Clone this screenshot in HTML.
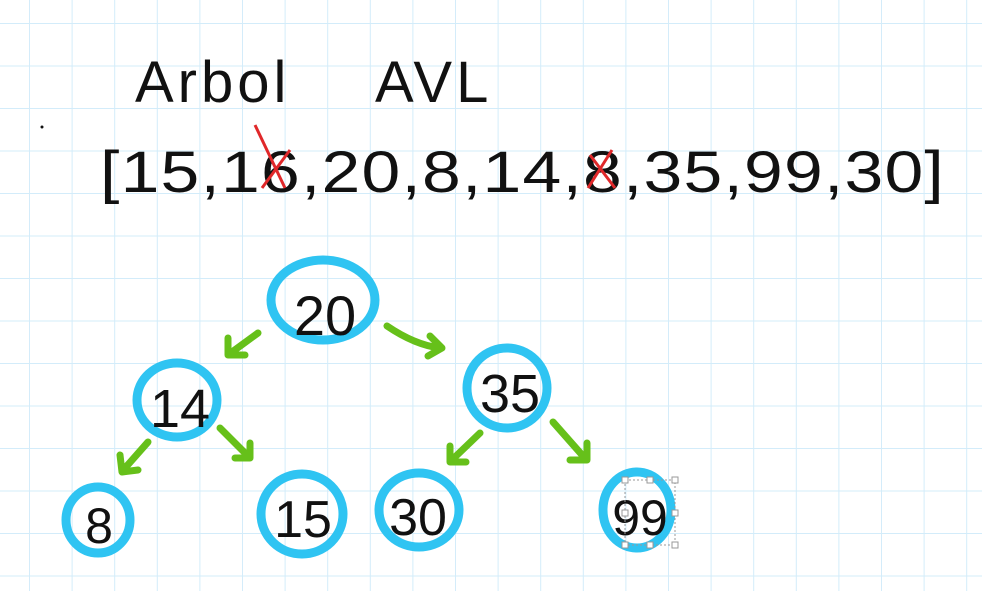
<!DOCTYPE html>
<html><head><style>
html,body{margin:0;padding:0;background:#fff}
svg{display:block}
</style></head><body>
<svg width="982" height="591" viewBox="0 0 982 591" xmlns="http://www.w3.org/2000/svg">
<defs>
<pattern id="g" x="29" y="23" width="42.6" height="42.5" patternUnits="userSpaceOnUse">
<path d="M0 0V42.5M0 0H42.6" stroke="#d3ecfa" stroke-width="2" fill="none"/>
</pattern>
</defs>
<rect width="982" height="591" fill="#fff"/>
<rect width="982" height="591" fill="url(#g)"/>
<g font-family="Liberation Sans, sans-serif" fill="#111">
<text x="135" y="102" font-size="58" font-weight="300" letter-spacing="4">Arbol</text>
<text x="375" y="102" font-size="58" font-weight="300" letter-spacing="4">AVL</text>
<text x="100" y="192" font-size="58" font-weight="300" letter-spacing="1" textLength="845" lengthAdjust="spacingAndGlyphs">[15,16,20,8,14,8,35,99,30]</text>
</g>
<circle cx="42" cy="127" r="1.5" fill="#111"/>
<g stroke="#e0282a" stroke-width="3" fill="none">
<path d="M255 125 L285 188 M290 150 L262 188"/>
<path d="M590 155 L615 188 M612 150 L588 188"/>
</g>
<g stroke="#2fc4f2" stroke-width="9" fill="none">
<ellipse cx="323" cy="300" rx="52" ry="40"/>
<ellipse cx="177" cy="400" rx="40" ry="37"/>
<ellipse cx="507" cy="388" rx="40" ry="40"/>
<ellipse cx="98" cy="520" rx="32" ry="33"/>
<ellipse cx="302" cy="514" rx="41" ry="40"/>
<ellipse cx="419" cy="510" rx="40" ry="37"/>
<ellipse cx="637" cy="510" rx="34" ry="38"/>
</g>
<g font-family="Liberation Sans, sans-serif" fill="#111" font-weight="300" text-anchor="middle">
<text x="325" y="335" font-size="56">20</text>
<text x="180" y="427" font-size="54">14</text>
<text x="510" y="412" font-size="54">35</text>
<text x="99" y="543" font-size="50">8</text>
<text x="303" y="537" font-size="52">15</text>
<text x="418" y="535" font-size="52">30</text>
<text x="640" y="535" font-size="50">99</text>
</g>
<g stroke="#66c01a" stroke-width="7" fill="none" stroke-linecap="round" stroke-linejoin="round">
<path d="M258 333 L232 352 M228 338 L228 355 L245 355"/>
<path d="M387 326 Q415 345 440 348 M430 336 L442 348 L428 356"/>
<path d="M148 442 L125 468 M120 455 L122 472 L138 470"/>
<path d="M220 428 L247 455 M235 458 L250 458 L250 443"/>
<path d="M480 433 L455 457 M450 446 L450 462 L466 462"/>
<path d="M553 422 L583 456 M570 460 L587 460 L587 443"/>
</g>
<g stroke="#999" stroke-width="1" fill="#fff">
<rect x="625" y="480" width="50" height="65" fill="none" stroke-dasharray="2 2"/>
<rect x="622" y="477" width="6" height="6"/><rect x="647" y="477" width="6" height="6"/><rect x="672" y="477" width="6" height="6"/>
<rect x="622" y="510" width="6" height="6"/><rect x="672" y="510" width="6" height="6"/>
<rect x="622" y="542" width="6" height="6"/><rect x="647" y="542" width="6" height="6"/><rect x="672" y="542" width="6" height="6"/>
</g>
</svg>
</body></html>
